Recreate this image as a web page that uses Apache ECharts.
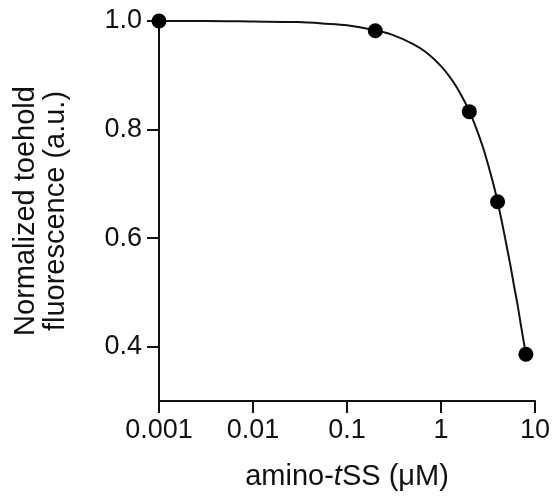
<!DOCTYPE html>
<html>
<head>
<meta charset="utf-8">
<script src="https://cdn.jsdelivr.net/npm/echarts@6/dist/echarts.min.js"></script>
<style>
  html, body { margin: 0; padding: 0; background: #fff; }
  #chart { width: 558px; height: 499px; }
</style>
</head>
<body>
<div id="chart"></div>
<script>
// Measured toehold fluorescence vs. amino-tSS concentration
const concentrations = [0.001, 0.2, 2, 4, 8];
const fluorescence = [1.0, 0.982, 0.833, 0.667, 0.386];

// Fitted dose-response curve
const fitX = [0.001, 0.003, 0.01, 0.03, 0.06, 0.1, 0.2, 0.3, 0.5, 0.7, 1.0, 1.3, 1.6, 2.0, 2.4, 2.8, 3.2, 3.6, 4.0, 4.5, 5.0, 5.5, 6.0, 6.5, 7.0, 7.5, 8.0];
const fitY = [1.000, 1.000, 0.999, 0.998, 0.995, 0.992, 0.983, 0.975, 0.958, 0.942, 0.917, 0.892, 0.867, 0.834, 0.800, 0.767, 0.733, 0.700, 0.667, 0.625, 0.585, 0.548, 0.511, 0.479, 0.445, 0.414, 0.386];

// Axis ticks
const xTickLabels = ['0.001', '0.01', '0.1', '1', '10'];
const yTickValues = [0.4, 0.6, 0.8, 1.0];

const FONT = '"Liberation Sans", Arial, Helvetica, sans-serif';
const INK = '#111';

const chart = echarts.init(document.getElementById('chart'), null, { renderer: 'canvas' });

chart.setOption({
  animation: false,
  backgroundColor: '#fff',
  grid: { left: 159, right: 23, top: 21, bottom: 98, containLabel: false, outerBoundsMode: 'none' },
  xAxis: {
    type: 'log',
    logBase: 10,
    min: 0.001,
    max: 10,
    name: 'amino-{i|t}SS (μM)',
    nameLocation: 'middle',
    nameGap: 61,
    nameTextStyle: {
      fontFamily: FONT, fontSize: 29, color: INK,
      rich: { i: { fontFamily: FONT, fontSize: 29, fontStyle: 'italic', color: INK } }
    },
    axisLine: { show: true, lineStyle: { color: INK, width: 2 } },
    axisTick: { show: true, inside: false, length: 12, lineStyle: { color: INK, width: 2 } },
    minorTick: { show: false },
    splitLine: { show: false },
    axisLabel: {
      margin: 16,
      fontFamily: FONT, fontSize: 27, color: INK,
      formatter: function (v) {
        const i = Math.round(Math.log10(v)) + 3;
        return xTickLabels[i] !== undefined ? xTickLabels[i] : '';
      }
    }
  },
  yAxis: {
    type: 'value',
    min: 0.3,
    max: 1.0,
    name: 'Normalized toehold\nfluorescence (a.u.)',
    nameLocation: 'middle',
    nameRotate: 90,
    nameGap: 88,
    nameTextStyle: { fontFamily: FONT, fontSize: 29, color: INK, lineHeight: 30 },
    axisLine: { show: true, lineStyle: { color: INK, width: 2 } },
    axisTick: { show: true, inside: false, length: 12, lineStyle: { color: INK, width: 2 }, customValues: yTickValues },
    splitLine: { show: false },
    axisLabel: {
      margin: 17,
      fontFamily: FONT, fontSize: 27, color: INK,
      customValues: yTickValues,
      formatter: function (v) { return v.toFixed(1); }
    }
  },
  series: [
    {
      name: 'fit',
      type: 'line',
      data: fitX.map((x, i) => [x, fitY[i]]),
      showSymbol: false,
      symbol: 'none',
      smooth: 0.3,
      clip: false,
      lineStyle: { color: INK, width: 2 },
      z: 2
    },
    {
      name: 'measured',
      type: 'scatter',
      data: concentrations.map((x, i) => [x, fluorescence[i]]),
      symbol: 'circle',
      symbolSize: 15,
      clip: false,
      itemStyle: { color: '#000', opacity: 1 },
      z: 3
    }
  ]
});
</script>
</body>
</html>
